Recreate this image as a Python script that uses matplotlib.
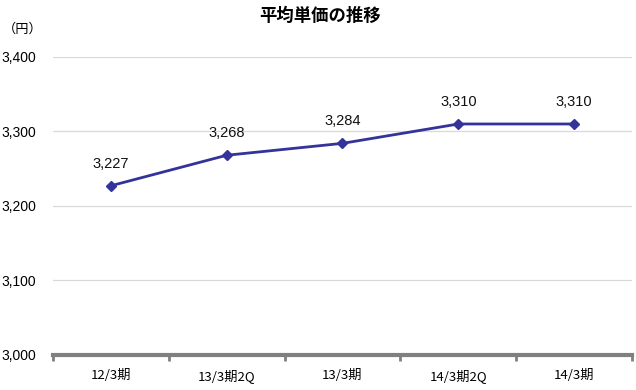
import matplotlib
matplotlib.use("Agg")
import matplotlib.pyplot as plt
import numpy as np

plt.rcParams['font.family'] = ['Noto Sans CJK JP', 'DejaVu Sans']
num_font = ['Liberation Sans', 'DejaVu Sans']

categories = ["12/3期", "13/3期2Q", "13/3期", "14/3期2Q", "14/3期"]
values = [3227, 3268, 3284, 3310, 3310]
yticks = [3000, 3100, 3200, 3300, 3400]

fig = plt.figure(figsize=(6.36, 3.9), dpi=100)
ax = fig.add_axes([0.083, 0.09, 0.911, 0.764])

x = np.arange(len(categories))
ax.plot(x, values, color='#333399', lw=2, marker='D', ms=5.5, zorder=3)
for xi, v in zip(x, values):
    ax.annotate(f"{v:,}", (xi, v), xytext=(0, 11), textcoords='offset points',
                ha='center', va='bottom', fontsize=10.5, color='#111111', family=num_font)

ax.set_xlim(-0.5, len(categories) - 0.5)
ax.set_ylim(3000, 3400)
ax.set_yticks(yticks)
ax.set_yticklabels([f"{t:,}" for t in yticks], fontsize=10, family=num_font)
ax.yaxis.grid(True, color='#d9d9d9', lw=0.9)
ax.set_axisbelow(True)
ax.tick_params(axis='y', length=0, pad=12)

ax.set_xticks(x)
ax.set_xticklabels(categories, fontsize=9.5)
ax.set_xticks(np.arange(-0.5, len(categories)), minor=True)
ax.tick_params(axis='x', which='major', length=0, pad=10)
ax.tick_params(axis='x', which='minor', length=4, width=2, color='#808080')

for s in ['top', 'right', 'left']:
    ax.spines[s].set_visible(False)
ax.spines['bottom'].set_color('#808080')
ax.spines['bottom'].set_linewidth(3)

fig.text(0.503, 0.96, "平均単価の推移", ha='center', va='center', fontsize=12.5, fontweight='bold')
fig.text(0.005, 0.925, "（円）", ha='left', va='center', fontsize=9.5)

fig.savefig("out.png", dpi=100)
